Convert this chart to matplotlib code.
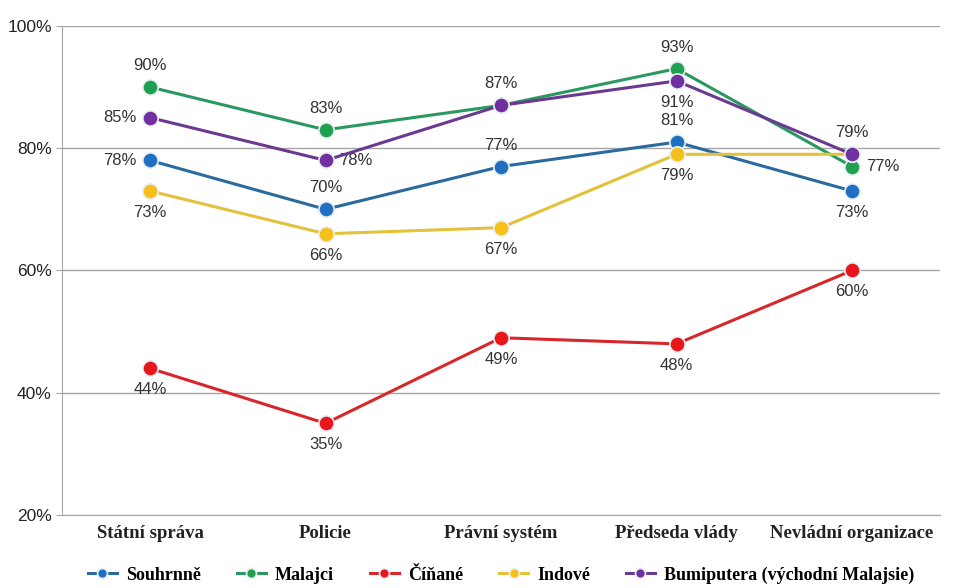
import matplotlib
matplotlib.use('Agg')
from matplotlib import pyplot as plt
from matplotlib.ticker import FuncFormatter

categories = ['Státní správa', 'Policie', 'Právní systém',
              'Předseda vlády', 'Nevládní organizace']
series_names = ['Souhrnně', 'Malajci', 'Číňané', 'Indové',
                'Bumiputera (východní Malajsie)']
souhrnne = [78, 70, 77, 81, 73]
malajci = [90, 83, 87, 93, 77]
cinane = [44, 35, 49, 48, 60]
indove = [73, 66, 67, 79, 79]
bumiputera = [85, 78, 87, 91, 79]

colors = ['#1f70c1', '#1fa04f', '#e8161b', '#f6bf1a', '#7030a0']
line_colors = ['#2a6a9e', '#2b9860', '#d8262a', '#e2c23a', '#6a3a90']

# label placement per point: 'a' above, 'b' below, 'l' left, 'r' right, None hidden
label_pos = [
    ['l', 'a', 'a', 'a', 'b'],
    ['a', 'a', 'a', 'a', 'r'],
    ['b', 'b', 'b', 'b', 'b'],
    ['b', 'b', 'b', 'b', None],
    ['l', 'r', None, 'b', 'a'],
]
offsets = {'a': (0, 10, 'center', 'bottom'), 'b': (0, -10, 'center', 'top'),
           'l': (-10, 0, 'right', 'center'), 'r': (10, 0, 'left', 'center')}

fig = plt.figure(figsize=(9.58, 5.88), dpi=100)
ax = fig.add_axes([0.065, 0.124, 0.916, 0.832])

x = list(range(len(categories)))
all_series = [souhrnne, malajci, cinane, indove, bumiputera]
for i, vals in enumerate(all_series):
    ax.plot(x, vals, color=line_colors[i], lw=2.2, marker='o', ms=11,
            mfc=colors[i], mec='#e8eef4', mew=1.2, label=series_names[i],
            zorder=3 + i * 0.1)
    for j, v in enumerate(vals):
        pos = label_pos[i][j]
        if pos is None:
            continue
        dx, dy, ha, va = offsets[pos]
        ax.annotate('%d%%' % v, (j, v), xytext=(dx, dy),
                    textcoords='offset points', ha=ha, va=va,
                    fontsize=12, color='#333333', family='Liberation Sans')

ax.set_xlim(-0.5, 4.5)
ax.set_ylim(20, 100)
ax.set_yticks([20, 40, 60, 80, 100])
ax.yaxis.set_major_formatter(FuncFormatter(lambda v, p: '%d%%' % v))
ax.grid(axis='y', color='#a6a6a6', lw=1)
ax.set_axisbelow(True)
for side in ['top', 'right']:
    ax.spines[side].set_visible(False)
ax.spines['left'].set_color('#a6a6a6')
ax.spines['bottom'].set_color('#a6a6a6')
ax.tick_params(axis='y', length=4, color='#a6a6a6', labelsize=12.5,
               labelcolor='#222222')
ax.tick_params(axis='x', length=0, pad=7)
ax.set_xticks(x)
ax.set_xticklabels(categories, family='Liberation Serif', fontweight='bold',
                   fontsize=13.5, color='#222222')
for lbl in ax.get_yticklabels():
    lbl.set_family('Liberation Sans')

leg = ax.legend(loc='upper center', bbox_to_anchor=(0.5, -0.072), ncol=5,
                frameon=False, handlelength=1.6, columnspacing=2.0,
                handletextpad=0.5, markerscale=0.65,
                prop={'family': 'Liberation Serif', 'weight': 'bold',
                      'size': 13})

plt.savefig('out.png', dpi=100)
